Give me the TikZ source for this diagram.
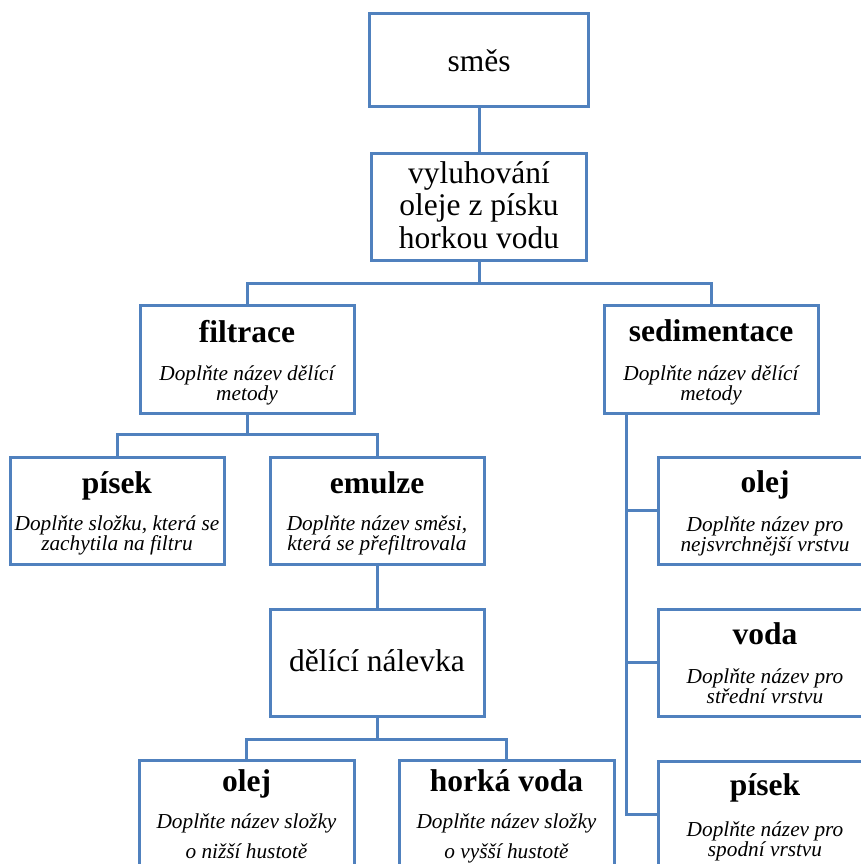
\documentclass[tikz,border=0pt]{standalone}
\usepackage{fontspec}
\setmainfont{Liberation Serif}
\definecolor{boxblue}{RGB}{80,129,190}
\tikzset{
  box/.style={draw=boxblue, line width=3pt, fill=white, inner sep=0pt, outer sep=0pt,
    minimum width=214pt, minimum height=107pt},
  link/.style={draw=boxblue, line width=3pt},
  plain/.style={font=\fontsize{31.5}{32}\selectfont, inner sep=0pt, anchor=base},
  title/.style={font=\bfseries\fontsize{31.5}{32}\selectfont, inner sep=0pt, anchor=base},
  hint/.style={font=\itshape\fontsize{21.3}{21}\selectfont, inner sep=0pt, anchor=base},
}
\begin{document}
\begin{tikzpicture}[x=1pt, y=-1pt]
\useasboundingbox (0,0) rectangle (861,864);
\clip (0,0) rectangle (861,864);

% connectors (drawn first, the boxes cover their ends)
\coordinate (j1) at (479,283);
\coordinate (j2) at (247,434);
\coordinate (j3) at (377,739);

% boxes
\node[box, minimum width=219pt, minimum height=93pt] (smes) at (479,60.5) {};
\node[box, minimum width=215pt] (vyluh) at (479,206.5) {};
\node[box, minimum height=108pt] (filtrace) at (247,359) {};
\node[box, minimum height=108pt] (sediment) at (711,359) {};
\node[box] (pisek) at (117,510.5) {};
\node[box] (emulze) at (377,510.5) {};
\node[box] (nalevka) at (377,662.5) {};
\node[box, minimum width=215pt] (olejdole) at (246.5,813.5) {};
\node[box, minimum width=215pt] (horka) at (506.5,813.5) {};
\node[box] (olejR) at (765,510.5) {};
\node[box] (vodaR) at (765,662.5) {};
\node[box] (pisekR) at (765,814.5) {};

\coordinate (trunk) at ([xshift=22pt]sediment.south west);
\draw[link] (smes.south) -- (vyluh.north);
\draw[link] (vyluh.south) -- (j1);
\draw[link] (filtrace.north) |- (j1) -| (sediment.north);
\draw[link] (filtrace.south) -- (j2);
\draw[link] (pisek.north) |- (j2) -| (emulze.north);
\draw[link] (emulze.south) -- (nalevka.north);
\draw[link] (nalevka.south) -- (j3);
\draw[link] (olejdole.north) |- (j3) -| (horka.north);
\draw[link] (trunk) |- (pisekR.west);
\draw[link] (trunk |- olejR.west) -- (olejR.west);
\draw[link] (trunk |- vodaR.west) -- (vodaR.west);

% texts
\node[plain] (smes-t) at ([yshift=-58pt]smes.north) {směs};
\node[plain] (vyluh-1) at ([yshift=-30pt]vyluh.north) {vyluhování};
\node[plain] (vyluh-2) at ([yshift=-62.5pt]vyluh.north) {oleje z písku};
\node[plain] (vyluh-3) at ([yshift=-95pt]vyluh.north) {horkou vodu};

\node[title] (filtrace-t) at ([yshift=-37pt]filtrace.north) {filtrace};
\node[hint] (filtrace-1) at ([yshift=-75pt]filtrace.north) {Doplňte název dělící};
\node[hint] (filtrace-2) at ([yshift=-95pt]filtrace.north) {metody};

\node[title] (sediment-t) at ([yshift=-36pt]sediment.north) {sedimentace};
\node[hint] (sediment-1) at ([yshift=-75pt]sediment.north) {Doplňte název dělící};
\node[hint] (sediment-2) at ([yshift=-95pt]sediment.north) {metody};

\node[title] (pisek-t) at ([yshift=-36pt]pisek.north) {písek};
\node[hint] (pisek-1) at ([yshift=-73pt]pisek.north) {Doplňte složku, která se};
\node[hint] (pisek-2) at ([yshift=-93pt]pisek.north) {zachytila na filtru};

\node[title] (emulze-t) at ([yshift=-36pt]emulze.north) {emulze};
\node[hint] (emulze-1) at ([yshift=-73pt]emulze.north) {Doplňte název směsi,};
\node[hint] (emulze-2) at ([yshift=-93pt]emulze.north) {která se přefiltrovala};

\node[plain] (nalevka-t) at ([yshift=-62pt]nalevka.north) {dělící nálevka};

\node[title] (olejdole-t) at ([yshift=-31pt]olejdole.north) {olej};
\node[hint] (olejdole-1) at ([yshift=-68pt]olejdole.north) {Doplňte název složky};
\node[hint] (olejdole-2) at ([yshift=-98pt]olejdole.north) {o nižší hustotě};

\node[title] (horka-t) at ([yshift=-31pt]horka.north) {horká voda};
\node[hint] (horka-1) at ([yshift=-68pt]horka.north) {Doplňte název složky};
\node[hint] (horka-2) at ([yshift=-98pt]horka.north) {o vyšší hustotě};

\node[title] (olejR-t) at ([yshift=-35pt]olejR.north) {olej};
\node[hint] (olejR-1) at ([yshift=-74pt]olejR.north) {Doplňte název pro};
\node[hint] (olejR-2) at ([yshift=-94pt]olejR.north) {nejsvrchnější vrstvu};

\node[title] (vodaR-t) at ([yshift=-35pt]vodaR.north) {voda};
\node[hint] (vodaR-1) at ([yshift=-74pt]vodaR.north) {Doplňte název pro};
\node[hint] (vodaR-2) at ([yshift=-94pt]vodaR.north) {střední vrstvu};

\node[title] (pisekR-t) at ([yshift=-34pt]pisekR.north) {písek};
\node[hint] (pisekR-1) at ([yshift=-75pt]pisekR.north) {Doplňte název pro};
\node[hint] (pisekR-2) at ([yshift=-95pt]pisekR.north) {spodní vrstvu};
\end{tikzpicture}
\end{document}
